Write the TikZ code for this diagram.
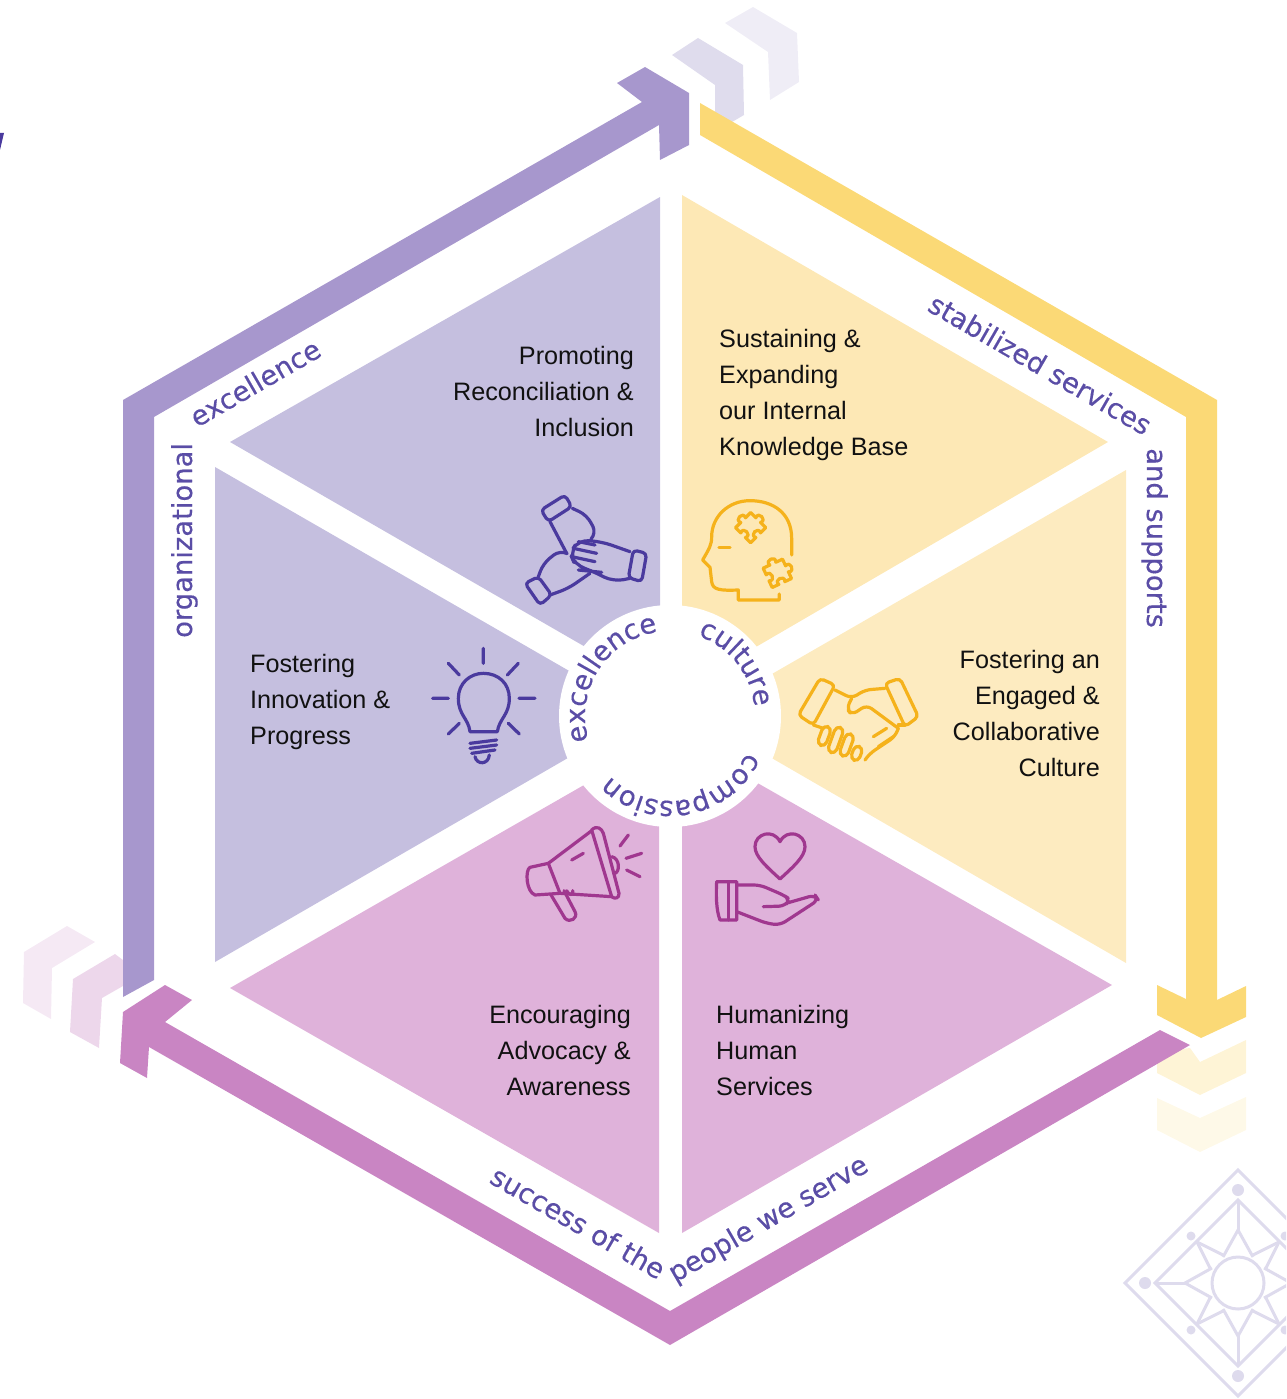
\documentclass[tikz,border=0pt]{standalone}
\usepackage{fontspec}
\setmainfont{Liberation Sans}
\newfontfamily\labelfam[FakeBold=0.4]{DejaVu Sans}
\usetikzlibrary{decorations.text}
\definecolor{wpurple}{HTML}{C5BFDF}
\definecolor{wyellow}{HTML}{FDE8B5}
\definecolor{wyellowb}{HTML}{FDEBC0}
\definecolor{wpink}{HTML}{DFB2DA}
\definecolor{apurple}{HTML}{A797CD}
\definecolor{ayellow}{HTML}{FBD976}
\definecolor{apink}{HTML}{C985C3}
\definecolor{labelc}{HTML}{5A4DA6}
\definecolor{ipurple}{HTML}{4A3A9E}
\definecolor{iyellow}{HTML}{F5B21B}
\definecolor{ipink}{HTML}{A0378F}
\definecolor{bodyc}{HTML}{111111}
\definecolor{mandala}{HTML}{DEDBED}
\tikzset{
  bodytext/.style={font=\fontsize{25.2}{36}\selectfont,text=bodyc,inner sep=0pt},
  edgetext/.style={font=\labelfam\fontsize{27.4}{27.4}\selectfont,text=labelc,inner sep=0pt,anchor=base west},
  iconline/.style={line width=3.2pt,line cap=round,line join=round},
  ringtext/.style={decorate,decoration={text along path,text align=center,
     text={|\labelfam\fontsize{27.4}{27.4}\selectfont\color{labelc}|#1}}},
  zoomed/.style={shift={(420,480)},x=0.33333pt,y=-0.33333pt},
  puzzle/.pic={\draw (-32,-32) -- (-10,-32) .. controls (-20,-52) and (20,-52) .. (10,-32) -- (32,-32) -- (32,-10) .. controls (52,-20) and (52,20) .. (32,10) -- (32,32) -- (10,32) .. controls (20,12) and (-20,12) .. (-10,32) -- (-32,32) -- (-32,10) .. controls (-12,20) and (-12,-20) .. (-32,-10) -- cycle;}
}
\begin{document}
\begin{tikzpicture}[x=1pt,y=-1pt]
\useasboundingbox (0,0) rectangle (1286,1399);
\clip (0,0) rectangle (1286,1399);
% ghost chevrons
\fill[fill=wpurple!55!white] (672,55)--(698,38)--(743,65)--(744,115)--(732,122)--(715,112)--(715,85)--cycle;
\fill[fill=wpurple!28!white] (725,23)--(753,7)--(797,33)--(799,82)--(770,100)--(768,52)--cycle;
\fill[fill=apink!18!white] (24,952)--(67,926)--(95,942)--(52,968)--(51,1019)--(23,1003)--cycle;
\fill[fill=apink!33!white] (73,979)--(115,954)--(123,960)--(123,986)--(102,998)--(99,1048)--(70,1032)--cycle;
\fill[fill=ayellow!30!white] (1157,1052)--(1190,1048)--(1200,1062)--(1246,1040)--(1246,1073)--(1200,1095)--(1157,1073)--cycle;
\fill[fill=ayellow!17!white] (1157,1098)--(1200,1118)--(1246,1097)--(1246,1130)--(1200,1152)--(1157,1130)--cycle;
% fragment at the left edge
\fill[fill=ipurple] (0,133)--(4,133)--(0,150)--cycle;
% wedges
\fill[wpurple] (660,197)--(660,690)--(230,442)--cycle;
\fill[wpurple] (215,467)--(644,714)--(215,962)--cycle;
\fill[wyellow] (682,195)--(1108,442)--(682,690)--cycle;
\fill[wyellowb] (1126,470)--(1126,963)--(699,716)--cycle;
\fill[wpink] (682,1233)--(1112,985)--(682,740)--cycle;
\fill[wpink] (659,1233)--(230,988)--(659,742)--cycle;
\node[circle,fill=white,minimum size=222pt,inner sep=0pt] (hub) at (670,716) {};
% arrows
\fill[apurple] (123,997)--(123,400)--(642,102)--(617,83)--(645,67)--(689,93)--(689,145)--(660,160)--(659,125)--(154,417)--(154,980)--cycle;
\fill[ayellow] (700,103)--(1217,400)--(1217,1000)--(1246,986)--(1246,1017)--(1201,1038)--(1157,1015)--(1157,985)--(1186,999)--(1186,417)--(700,135)--cycle;
\fill[apink] (1160,1030)--(1190,1045)--(670,1345)--(149,1047)--(147,1078)--(120,1063)--(123,1012)--(165,985)--(192,1000)--(165,1022)--(670,1311)--cycle;
% mandala
\begin{scope}[shift={(1238,1283)},draw=mandala,fill=mandala,line width=3pt,line join=miter]
  \draw (-113,0)--(0,-113)--(113,0)--(0,113)--cycle;
  \draw (-83,0)--(0,-83)--(83,0)--(0,83)--cycle;
  \draw (0,0) circle (26);
  \foreach \r in {0,90,180,270}{
    \begin{scope}[rotate=\r]
      \fill (0,-93) circle (6);
      \fill (-47,-47) circle (4.5);
      \draw (0,-83)--(0,-53);
      \draw (-15,-26)--(0,-53)--(15,-26);
      \draw (-41,-41)--(-15,-28);
      \draw (-41,-41)--(-28,-15);
    \end{scope}
  }
\end{scope}
% body text
\node[bodytext,anchor=north east,align=right] (t1) at (634,346) {Promoting\\Reconciliation \&\\Inclusion};
\node[bodytext,anchor=north west,align=left] (t2) at (719,329) {Sustaining \&\\Expanding\\our Internal\\Knowledge Base};
\node[bodytext,anchor=north east,align=right] (t3) at (1100,650) {Fostering an\\Engaged \&\\Collaborative\\Culture};
\node[bodytext,anchor=north west,align=left] (t4) at (250,654) {Fostering\\Innovation \&\\Progress};
\node[bodytext,anchor=north east,align=right] (t5) at (631,1005) {Encouraging\\Advocacy \&\\Awareness};
\node[bodytext,anchor=north west,align=left] (t6) at (716,1005) {Humanizing\\Human\\Services};
% edge labels
\node[edgetext,rotate=30] (e1) at (197,428) {excellence};
\node[edgetext,rotate=90] (e2) at (192,638) {organizational};
\node[edgetext,rotate=-30] (e3) at (926,310) {stabilized services};
\node[edgetext,rotate=-90] (e4) at (1147,448) {and supports};
\node[edgetext,rotate=-30] (e5) at (488,1182) {success of the};
\node[edgetext,rotate=30] (e6) at (675,1283) {people we serve};
% hub labels
\begin{scope}[shift={(670,716)},y=1pt]
  \path[ringtext=excellence] (197:85) arc (197:98:85);
  \path[ringtext=culture] (69:85) arc (69:8:85);
  \path[ringtext=compassion] (-22:85) arc (-22:-138:85);
\end{scope}
% icons (written in 3x zoom coordinates)
\begin{scope}[zoomed,iconline,draw=ipurple]
  % bulb
  \draw (150,755) .. controls (145,715) and (115,705) .. (115,655) .. controls (115,610) and (150,580) .. (190,580) .. controls (235,580) and (268,610) .. (268,655) .. controls (268,705) and (238,715) .. (232,755) -- cycle;
  \draw (150,790)--(230,780) (150,805)--(230,795) (155,820)--(225,810);
  \draw (165,830) .. controls (170,855) and (205,855) .. (208,825);
  \draw (190,505)--(190,550) (85,550)--(118,585) (295,550)--(262,585) (38,655)--(85,655) (297,655)--(345,655) (85,762)--(118,730) (298,762)--(265,730);
  % joined hands
  \begin{scope}[shift={(285,15)}]
    \draw[rounded corners=4pt] (78,75)--(150,30)--(170,65)--(100,110)--cycle;
    \draw (105,110)--(155,205);
    \draw[rounded corners=8pt] (172,70)--(215,90)--(245,145)--(230,160);
    \draw[rounded corners=4pt] (355,195)--(395,205)--(380,290)--(340,278)--cycle;
    \draw[rounded corners=10pt] (345,200)--(260,170)--(190,165)--(165,205)--(180,240)--(225,255)--(295,290)--(345,280);
    \draw (190,170)--(240,180) (175,190)--(245,205) (170,215)--(240,230) (190,255)--(260,262);
    \draw[rounded corners=4pt] (30,295)--(70,275)--(110,330)--(75,360)--cycle;
    \draw[rounded corners=8pt] (70,275)--(85,235)--(135,195)--(155,205);
    \draw[rounded corners=8pt] (105,330)--(160,310)--(225,265);
  \end{scope}
\end{scope}
\begin{scope}[zoomed,iconline,draw=iyellow]
  % head
  \draw (1115,225) -- (1115,175) .. controls (1115,100) and (1060,62) .. (990,62) .. controls (925,62) and (875,110) .. (875,170) .. controls (875,195) and (868,205) .. (848,240) -- (870,262) -- (875,305) .. controls (878,330) and (900,332) .. (955,330) -- (955,360) -- (1078,360) -- (1078,342);
  \draw (897,203)--(930,203);
  \pic[rotate=45] at (992,143) {puzzle};
  \pic[rotate=25] at (1072,280) {puzzle};
  % handshake
  \begin{scope}[shift={(1110,555)}]
    \draw[rounded corners=4pt] (25,150)--(90,40)--(135,60)--(70,180)--cycle;
    \draw[rounded corners=4pt] (285,55)--(330,40)--(385,155)--(345,185)--cycle;
    \draw[rounded corners=6pt] (135,75)--(185,100)--(225,75)--(285,70);
    \draw[rounded corners=6pt] (185,100)--(170,130)--(185,150)--(230,120)--(325,190);
    \draw (345,180)--(325,180);
    \draw[rounded corners=6pt] (325,190)--(315,215)--(240,265)--(225,285);
    \draw (250,215)--(290,190) (265,245)--(310,215);
    \draw (70,180)--(100,190);
    \foreach \cx/\cy/\l in {103/213/30,137/225/40,170/240/35,200/265/22}{
      \draw[rotate around={70:(\cx,\cy)},rounded corners=5pt] (\cx-\l,\cy-13) rectangle (\cx+\l,\cy+13);
    }
  \end{scope}
\end{scope}
\begin{scope}[zoomed,iconline,draw=ipink]
  % heart and hand
  \draw (1080,1197) .. controls (1040,1160) and (1005,1130) .. (1005,1100) .. controls (1005,1060) and (1060,1045) .. (1080,1085) .. controls (1100,1045) and (1155,1060) .. (1155,1100) .. controls (1155,1130) and (1120,1160) .. (1080,1197);
  \draw (890,1205)--(950,1205)--(950,1320)--(900,1320) .. controls (888,1290) and (888,1240) .. (890,1205);
  \draw (925,1205)--(925,1320);
  \draw[rounded corners=6pt] (950,1215)--(1020,1215)--(1090,1245)--(1110,1258)--(1095,1278)--(1030,1280);
  \draw[rounded corners=6pt] (1105,1268)--(1185,1245)--(1195,1260)--(1080,1335)--(1040,1330)--(950,1295);
  % megaphone
  \draw (515,1050) .. controls (530,1035) and (545,1045) .. (550,1060) -- (597,1240) .. controls (598,1255) and (585,1258) .. (575,1250) -- cycle;
  \draw (515,1052)--(385,1150)--(420,1240)--(575,1250);
  \draw (385,1150)--(330,1162) .. controls (315,1170) and (318,1235) .. (345,1245)--(420,1240);
  \draw (392,1243)--(435,1315) .. controls (450,1330) and (475,1315) .. (465,1295)--(432,1232);
  \draw (440,1232) .. controls (450,1250) and (462,1245) .. (458,1232);
  \draw (575,1130) .. controls (600,1135) and (600,1175) .. (585,1180);
  \draw (455,1140)--(490,1120);
  \draw (600,1098)--(625,1065) (618,1135)--(665,1120) (620,1170)--(660,1190);
\end{scope}
\end{tikzpicture}
\end{document}
